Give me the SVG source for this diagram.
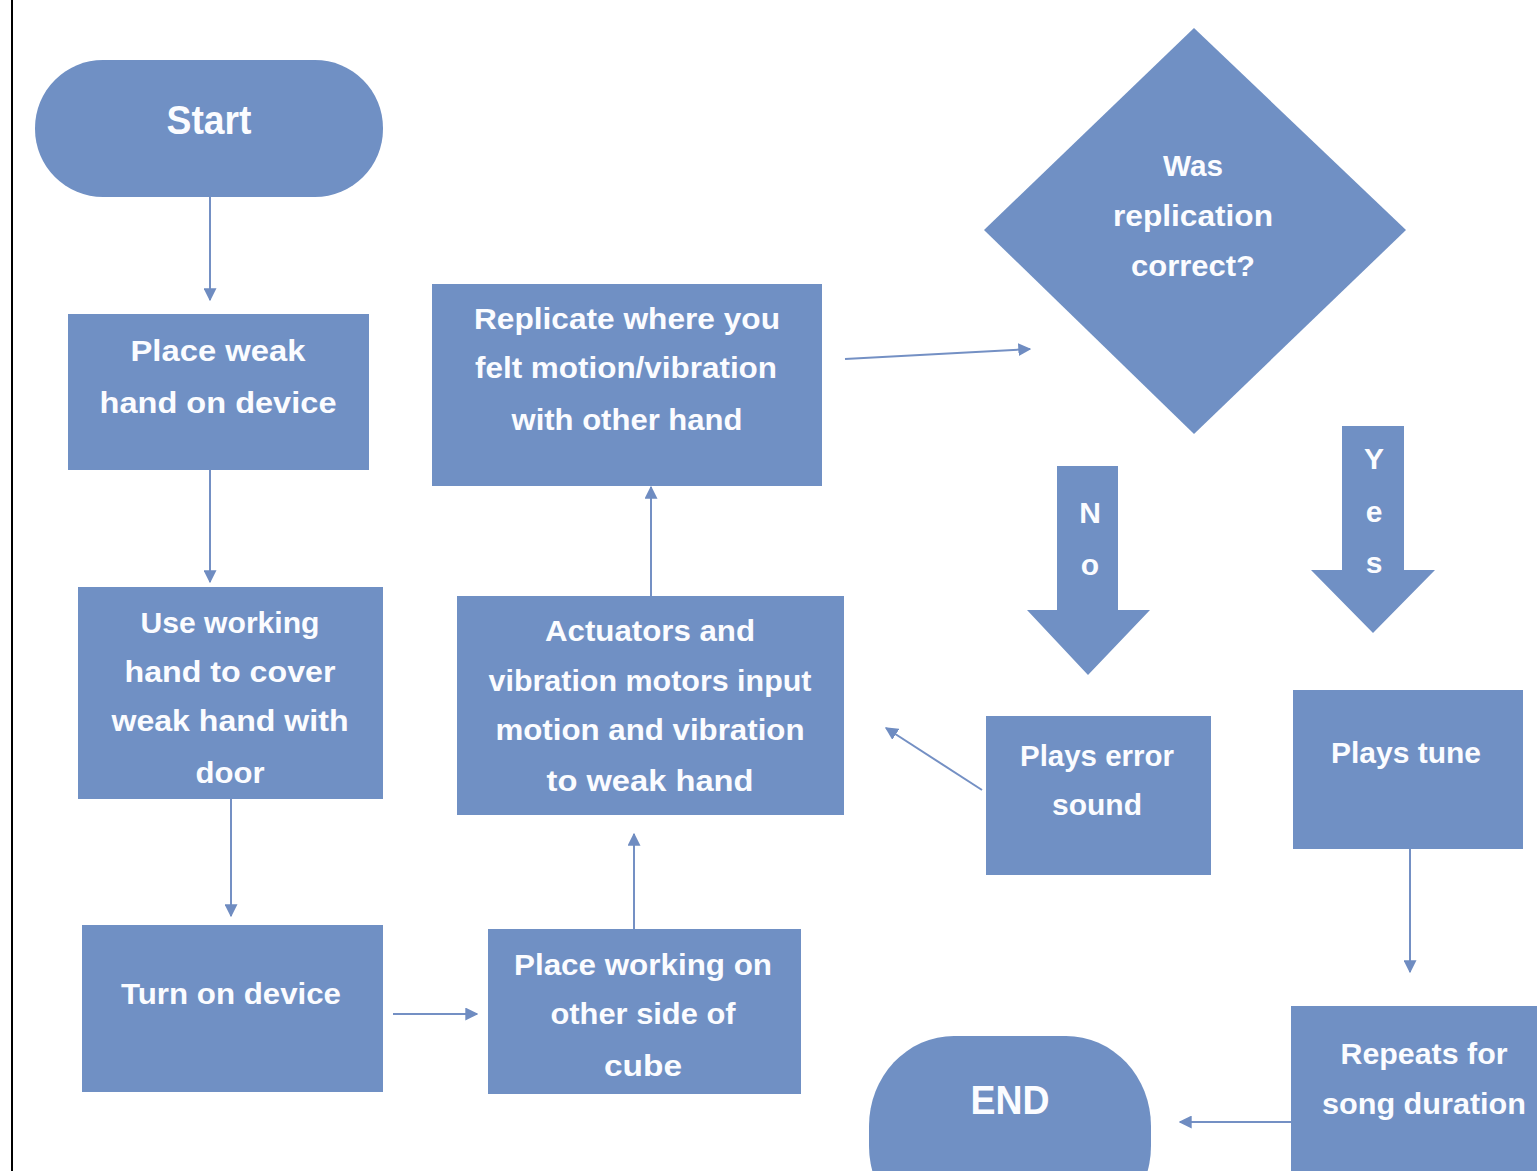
<svg xmlns="http://www.w3.org/2000/svg" width="1537" height="1171" viewBox="0 0 1537 1171">
<style>
.n{fill:#7090c4}
.t{font-family:"Liberation Sans",Arial,sans-serif;font-weight:bold;font-size:30px;fill:#fbfcff;text-anchor:middle}
.big{font-size:40px}
.c{stroke:#7490c4;stroke-width:2;fill:none;marker-end:url(#ah)}
</style>
<defs>
<marker id="ah" viewBox="0 0 10 10" refX="9" refY="5" markerWidth="13" markerHeight="13" markerUnits="userSpaceOnUse" orient="auto">
<path d="M0,0 L10,5 L0,10 z" fill="#6f8cc1"/>
</marker>
</defs>
<rect width="1537" height="1171" fill="#ffffff"/>
<line x1="12" y1="0" x2="12" y2="1171" stroke="#000" stroke-width="2"/>
<g id="connectors">
<line class="c" x1="210" y1="197" x2="210" y2="300"/>
<line class="c" x1="210" y1="470" x2="210" y2="582"/>
<line class="c" x1="231" y1="799" x2="231" y2="916"/>
<line class="c" x1="393" y1="1014" x2="477" y2="1014"/>
<line class="c" x1="634" y1="929" x2="634" y2="834"/>
<line class="c" x1="651" y1="596" x2="651" y2="487"/>
<line class="c" x1="845" y1="359" x2="1030" y2="349"/>
<line class="c" x1="982" y1="790" x2="886" y2="728"/>
<line class="c" x1="1410" y1="849" x2="1410" y2="972"/>
<line class="c" x1="1291" y1="1122" x2="1180" y2="1122"/>
<g id="no-arrow">
<polygon class="n" points="1057,466 1118,466 1118,610 1150,610 1088,675 1027,610 1057,610"/>
<text class="t" x="1090" y="523">N</text>
<text class="t" x="1090" y="575">o</text>
</g>
<g id="yes-arrow">
<polygon class="n" points="1342,426 1404,426 1404,570 1435,570 1373,633 1311,570 1342,570"/>
<text class="t" x="1374" y="469">Y</text>
<text class="t" x="1374" y="522">e</text>
<text class="t" x="1374" y="573">s</text>
</g>
</g>
<g id="start">
<rect class="n" x="35" y="60" width="348" height="137" rx="68" ry="68"/>
<text class="t big" x="209" y="134" textLength="85" lengthAdjust="spacingAndGlyphs">Start</text>
</g>
<g id="place-weak">
<rect class="n" x="68" y="314" width="301" height="156"/>
<text class="t" x="218" y="361" textLength="175" lengthAdjust="spacingAndGlyphs">Place weak</text>
<text class="t" x="218" y="413" textLength="237" lengthAdjust="spacingAndGlyphs">hand on device</text>
</g>
<g id="use-working">
<rect class="n" x="78" y="587" width="305" height="212"/>
<text class="t" x="230" y="633" textLength="179" lengthAdjust="spacingAndGlyphs">Use working</text>
<text class="t" x="230" y="682" textLength="211" lengthAdjust="spacingAndGlyphs">hand to cover</text>
<text class="t" x="230" y="731" textLength="237" lengthAdjust="spacingAndGlyphs">weak hand with</text>
<text class="t" x="230" y="783" textLength="69" lengthAdjust="spacingAndGlyphs">door</text>
</g>
<g id="turn-on">
<rect class="n" x="82" y="925" width="301" height="167"/>
<text class="t" x="231" y="1004" textLength="220" lengthAdjust="spacingAndGlyphs">Turn on device</text>
</g>
<g id="place-working">
<rect class="n" x="488" y="929" width="313" height="165"/>
<text class="t" x="643" y="975" textLength="258" lengthAdjust="spacingAndGlyphs">Place working on</text>
<text class="t" x="643" y="1024" textLength="185" lengthAdjust="spacingAndGlyphs">other side of</text>
<text class="t" x="643" y="1076" textLength="78" lengthAdjust="spacingAndGlyphs">cube</text>
</g>
<g id="actuators">
<rect class="n" x="457" y="596" width="387" height="219"/>
<text class="t" x="650" y="641" textLength="210" lengthAdjust="spacingAndGlyphs">Actuators and</text>
<text class="t" x="650" y="691" textLength="323" lengthAdjust="spacingAndGlyphs">vibration motors input</text>
<text class="t" x="650" y="740" textLength="309" lengthAdjust="spacingAndGlyphs">motion and vibration</text>
<text class="t" x="650" y="791" textLength="207" lengthAdjust="spacingAndGlyphs">to weak hand</text>
</g>
<g id="replicate">
<rect class="n" x="432" y="284" width="390" height="202"/>
<text class="t" x="627" y="329" textLength="306" lengthAdjust="spacingAndGlyphs">Replicate where you</text>
<text class="t" x="626" y="378" textLength="302" lengthAdjust="spacingAndGlyphs">felt motion/vibration</text>
<text class="t" x="627" y="430" textLength="231" lengthAdjust="spacingAndGlyphs">with other hand</text>
</g>
<g id="decision">
<polygon class="n" points="1194,28 1406,230 1194,434 984,230"/>
<text class="t" x="1193" y="176" textLength="60" lengthAdjust="spacingAndGlyphs">Was</text>
<text class="t" x="1193" y="226" textLength="160" lengthAdjust="spacingAndGlyphs">replication</text>
<text class="t" x="1193" y="276" textLength="124" lengthAdjust="spacingAndGlyphs">correct?</text>
</g>
<g id="error-sound">
<rect class="n" x="986" y="716" width="225" height="159"/>
<text class="t" x="1097" y="766" textLength="154" lengthAdjust="spacingAndGlyphs">Plays error</text>
<text class="t" x="1097" y="815" textLength="90" lengthAdjust="spacingAndGlyphs">sound</text>
</g>
<g id="plays-tune">
<rect class="n" x="1293" y="690" width="230" height="159"/>
<text class="t" x="1406" y="763" textLength="150" lengthAdjust="spacingAndGlyphs">Plays tune</text>
</g>
<g id="repeats">
<rect class="n" x="1291" y="1006" width="250" height="170"/>
<text class="t" x="1424" y="1064" textLength="167" lengthAdjust="spacingAndGlyphs">Repeats for</text>
<text class="t" x="1424" y="1114" textLength="204" lengthAdjust="spacingAndGlyphs">song duration</text>
</g>
<g id="end">
<rect class="n" x="869" y="1036" width="282" height="200" rx="85" ry="90"/>
<text class="t big" x="1010" y="1114" textLength="79" lengthAdjust="spacingAndGlyphs">END</text>
</g>
</svg>
